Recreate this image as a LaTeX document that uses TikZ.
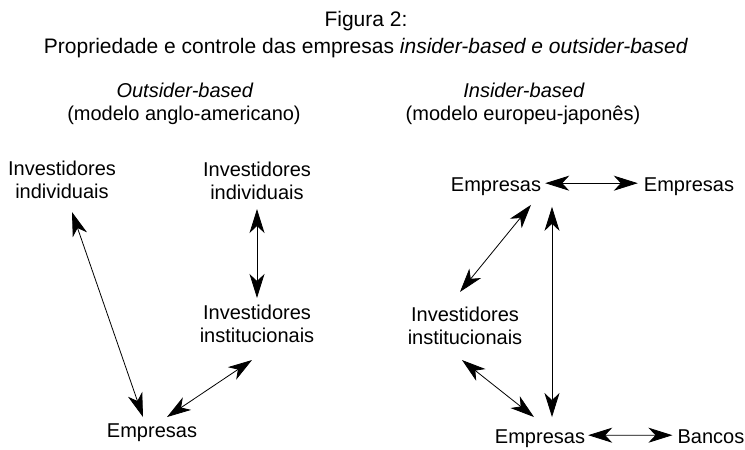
\documentclass[tikz,border=0pt]{standalone}
\usepackage{fontspec}
\setmainfont{Liberation Sans}
\usetikzlibrary{positioning,arrows.meta}
\tikzset{rotulo/.style = {inner sep=0pt,align=center,font=\fontsize{20}{23}\selectfont}}
\tikzset{seta/.style = {{Stealth[length=24pt,width=15pt,inset=7pt]}-{Stealth[length=24pt,width=15pt,inset=7pt]},line width=0.8pt}}

\begin{document}
\begin{tikzpicture}[x=1pt,y=1pt,every node/.style={rotulo}]
    \useasboundingbox (0,0) rectangle (745,450);
    % titulo
    \node[anchor=base,font=\fontsize{21}{24}\selectfont] (1) at (366,423) {Figura 2:};
    \node[anchor=base,font=\fontsize{21}{24}\selectfont] (2) at (366,396) {Propriedade e controle das empresas \textit{insider-based e outsider-based}};
    % outsider-based
    \node[anchor=base] (3) at (185,352) {\textit{Outsider-based}};
    \node[anchor=base] (4) at (184,329) {(modelo anglo-americano)};
    \node (5) at (62,270) {Investidores\\individuais};
    \node (6) at (257,269) {Investidores\\individuais};
    \node (7) at (257,126) {Investidores\\institucionais};
    \node[anchor=base] (8) at (152,12) {Empresas};
    \draw[seta] ([shift={(10,-13)}]5.south) -- ([shift={(-9,7)}]8.north);
    \draw[seta] ([shift={(0,-9)}]6.south) -- ([shift={(0,7)}]7.north);
    \draw[seta] ([shift={(-5,-17)}]7.south) -- ([shift={(15,7)}]8.north);
    % insider-based
    \node[anchor=base] (9) at (524,352) {\textit{Insider-based}};
    \node[anchor=base] (10) at (523,329) {(modelo europeu-japonês)};
    \node[anchor=base] (11) at (496,258.5) {Empresas};
    \node[anchor=base] (12) at (689,258.5) {Empresas};
    \node (13) at (465,124) {Investidores\\institucionais};
    \node[anchor=base] (14) at (540,6) {Empresas};
    \node[anchor=base] (15) at (711,6) {Bancos};
    \draw[seta] ([shift={(4,3.5)}]11.east) -- ([shift={(-6,3.5)}]12.west);
    \draw[seta] ([shift={(35,-9)}]11.south) -- ([shift={(-5,15)}]13.north);
    \draw[seta] ([shift={(56,-11)}]11.south) -- ([shift={(12,13)}]14.north);
    \draw[seta] ([shift={(-3,-15)}]13.south) -- ([shift={(-6,13)}]14.north);
    \draw[seta] ([shift={(3,4)}]14.east) -- ([shift={(-5,2)}]15.west);
\end{tikzpicture}
\end{document}
